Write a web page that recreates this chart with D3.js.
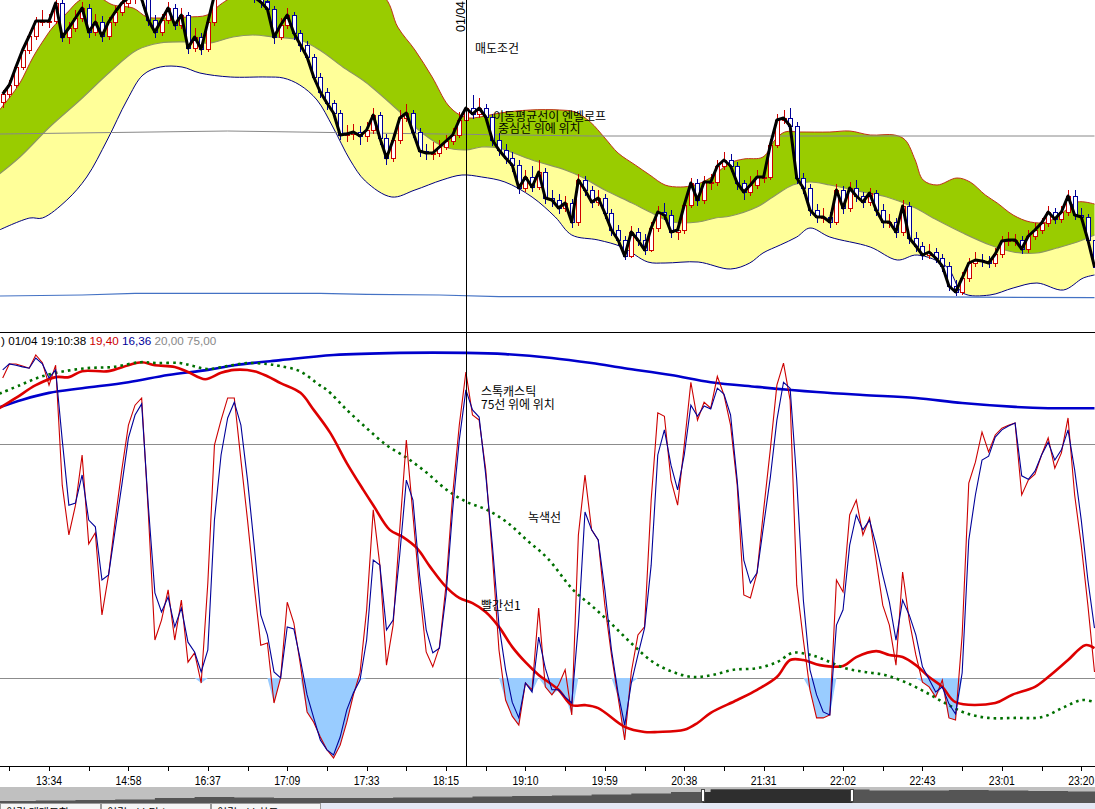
<!DOCTYPE html>
<html>
<head>
<meta charset="utf-8">
<script src="https://cdn.jsdelivr.net/npm/d3@7"></script>
<style>
html, body { margin: 0; padding: 0; background: #fff; overflow: hidden; }
svg { display: block; }
text { font-family: "Liberation Sans", Arial, sans-serif; }
.kr { font-family: "Noto Sans CJK KR", sans-serif; font-size: 12px; fill: #000; }
</style>
</head>
<body>
<div id="chart"></div>
<script>
const width = 1095;
const height = 809;

// ---- price candles (one per bar) ----
const opens = [2498,2506,2515,2533,2550,2564,2579,2578,2579,2597,
2563,2572,2582,2592,2568,2578,2564,2578,2588,2597,
2602,2603,2601,2580,2568,2580,2592,2575,2585,2552,
2563,2551,2578,2605,2615,2620,2620,2615,2610,2603,
2598,2591,2563,2575,2585,2567,2555,2543,2523,2508,
2497,2487,2465,2466,2468,2464,2470,2485,2462,2442,
2460,2482,2487,2468,2449,2447,2447,2453,2459,2465,
2480,2492,2486,2492,2483,2460,2450,2442,2435,2412,
2423,2413,2428,2402,2400,2392,2397,2378,2420,2410,
2398,2402,2387,2370,2360,2344,2368,2360,2350,2372,
2388,2385,2368,2370,2395,2417,2400,2418,2418,2434,
2440,2434,2417,2408,2415,2423,2423,2455,2480,2482,
2474,2422,2412,2390,2383,2383,2378,2410,2392,2412,
2404,2398,2407,2390,2378,2378,2368,2394,2362,2354,
2345,2348,2342,2334,2314,2308,2322,2337,2340,2339,
2337,2346,2359,2360,2360,2351,2364,2370,2377,2388,
2381,2388,2404,2385,2383,2360];
const highs = [2510,2520,2537,2555,2568,2583,2590,2586,2603,2600,
2578,2590,2598,2596,2586,2584,2583,2594,2604,2608,
2610,2609,2604,2585,2586,2598,2596,2592,2588,2572,
2567,2584,2612,2622,2628,2627,2625,2620,2614,2608,
2604,2594,2582,2592,2588,2570,2559,2546,2527,2512,
2500,2490,2475,2476,2474,2478,2492,2488,2466,2466,
2490,2496,2490,2472,2456,2458,2460,2465,2472,2488,
2500,2505,2502,2496,2486,2467,2456,2448,2440,2430,
2434,2440,2432,2410,2406,2404,2401,2426,2424,2414,
2410,2406,2391,2375,2364,2374,2372,2366,2378,2394,
2397,2390,2376,2400,2422,2421,2424,2426,2440,2448,
2446,2438,2420,2424,2430,2432,2461,2486,2490,2492,
2478,2427,2416,2396,2392,2388,2416,2414,2418,2420,
2408,2412,2410,2396,2386,2382,2400,2398,2368,2358,
2356,2352,2346,2338,2320,2328,2342,2348,2346,2344,
2352,2364,2368,2366,2364,2370,2377,2382,2394,2392,
2394,2410,2410,2392,2386,2364];
const lows = [2492,2502,2512,2530,2546,2560,2574,2572,2576,2558,
2556,2568,2578,2562,2564,2558,2560,2574,2584,2592,
2596,2594,2574,2562,2564,2576,2570,2571,2546,2548,
2545,2548,2574,2600,2610,2612,2610,2604,2597,2592,
2586,2556,2560,2571,2560,2548,2538,2518,2502,2490,
2480,2460,2458,2460,2455,2458,2466,2455,2435,2438,
2456,2478,2462,2443,2440,2440,2443,2450,2455,2462,
2477,2481,2482,2477,2454,2444,2436,2428,2406,2408,
2408,2410,2396,2393,2386,2388,2372,2374,2404,2392,
2394,2381,2364,2354,2340,2342,2354,2345,2348,2368,
2380,2362,2360,2366,2392,2394,2396,2410,2414,2430,
2428,2410,2400,2404,2411,2417,2420,2452,2476,2470,
2416,2406,2384,2377,2377,2372,2375,2386,2388,2398,
2392,2394,2384,2372,2372,2362,2364,2356,2348,2340,
2341,2337,2328,2309,2304,2305,2318,2333,2333,2332,
2333,2342,2354,2354,2346,2347,2360,2366,2373,2376,
2377,2384,2380,2378,2354,2328];
const closes = [2506,2515,2533,2550,2564,2579,2579,2579,2597,2563,
2572,2582,2592,2568,2578,2564,2578,2588,2597,2602,
2603,2601,2580,2568,2580,2592,2575,2585,2552,2563,
2551,2578,2605,2615,2620,2620,2615,2610,2603,2598,
2591,2563,2575,2585,2567,2555,2543,2523,2508,2497,
2487,2465,2466,2468,2464,2470,2485,2462,2442,2460,
2482,2487,2468,2449,2447,2447,2453,2459,2465,2480,
2492,2486,2492,2483,2460,2450,2442,2435,2412,2423,
2413,2428,2402,2400,2392,2397,2378,2420,2410,2398,
2402,2387,2370,2360,2344,2368,2360,2350,2372,2388,
2385,2368,2370,2395,2417,2400,2418,2418,2434,2440,
2434,2417,2408,2415,2423,2423,2455,2480,2482,2474,
2422,2412,2390,2383,2383,2378,2410,2392,2412,2404,
2398,2407,2390,2378,2378,2368,2394,2362,2354,2345,
2348,2342,2334,2314,2308,2322,2337,2340,2339,2337,
2346,2359,2360,2360,2351,2364,2370,2377,2388,2381,
2388,2404,2385,2383,2360,2333];

// ---- envelope and long averages, [bar, price] ----
const upperEnv = [[-0.5,2490],[1.1,2503],[2.6,2517],[4.6,2543],[6.4,2562],[7.6,2573],[9.7,2587],[11.7,2600],[14,2604],[16.7,2595],[19.7,2592],[21.8,2583],[23.8,2582],[27.9,2583],[30.9,2585],[32.8,2595],[34.4,2602],[40,2622],[45,2630],[52,2622],[57.8,2602],[59.7,2573],[62.3,2550],[64.9,2523],[67.3,2495],[69.1,2485],[70.6,2482],[72.1,2483],[75.2,2487],[79.7,2490],[84.2,2490],[86.5,2488],[88.8,2478],[91,2462],[93,2447],[95.6,2435],[97.8,2425],[100.1,2415],[102.4,2413],[104.6,2415],[106.9,2422],[109.9,2437],[112,2441],[114.9,2443],[116.7,2460],[118.2,2468],[120.5,2468],[125,2468],[128,2469],[131.1,2465],[134.8,2465],[136.4,2460],[137.9,2440],[139.1,2420],[141.2,2415],[144.2,2422],[146.2,2418],[148.5,2405],[150.3,2397],[152.7,2385],[155.3,2378],[157.8,2378],[160.3,2388],[162.4,2398],[165,2396]];
const middleEnv = [[-0.5,2426],[2.6,2443],[7.1,2473],[11.7,2500],[16.2,2528],[20.3,2550],[23.8,2557],[27.9,2558],[31.3,2557],[34.8,2563],[37.8,2565],[40.9,2563],[44.9,2560],[47.9,2550],[51.4,2533],[54.8,2518],[59.7,2490],[63.4,2467],[66.8,2453],[69.9,2450],[72.4,2453],[74.9,2452],[80,2440],[85,2430],[87.5,2423],[91,2410],[95.1,2397],[98.1,2387],[101.2,2378],[105.1,2378],[107.7,2382],[110,2384],[114,2393],[116.4,2403],[119.4,2415],[122,2418],[125,2415],[130,2408],[133.6,2403],[137.6,2393],[141.2,2380],[145.1,2367],[149.2,2355],[152.7,2348],[156.3,2347],[159.3,2352],[162.4,2358],[165,2365]];
const lowerEnv = [[-0.5,2370],[4.1,2382],[6,2382],[9.7,2400],[12.7,2423],[15.8,2460],[18.8,2500],[21.2,2525],[23.8,2533],[27.1,2533],[29.8,2527],[34.4,2523],[39.9,2523],[42.4,2522],[44.9,2515],[47.5,2500],[49.9,2473],[52.5,2440],[54.8,2419],[58.8,2403],[62.3,2410],[66.4,2420],[69.4,2425],[72.4,2423],[75.9,2418],[80,2403],[83.5,2383],[86,2365],[90,2360],[93.6,2353],[97.5,2338],[100.1,2337],[105.1,2338],[110,2331],[112.9,2337],[114.9,2347],[117.5,2355],[120,2363],[122,2372],[125,2363],[131.1,2353],[135.2,2340],[138.2,2345],[142.7,2333],[145.1,2307],[149.2,2305],[152.7,2312],[156.3,2317],[160.3,2310],[163.3,2322],[165,2325]];
const grayLongMA = [[-0.5,2466],[34,2469],[55,2467],[89,2464],[165,2464]];
const blueLongMA = [[-0.5,2304],[12,2305],[20,2306.7],[48,2306.7],[55,2305.7],[66,2305],[75,2303.3],[134,2303.3],[165,2302.3]];

// ---- stochastic (one per bar) ----
const stochK = [90.5,93.8,93.8,93.3,92.8,95.9,94.1,88.8,93.5,65.3,
53.6,60.6,72.4,51.5,54.1,34.8,44.2,57.1,68.9,79.4,
84.1,85.8,59.0,28.9,33.6,40.7,28.9,38.3,23.7,25.9,
18.8,42.3,74.7,80.6,85.8,85.8,71.2,57.1,41.8,27.7,
28.2,14.1,20.0,37.8,32.9,23.0,12.0,9.6,6.1,3.1,
1.2,4.2,9.6,16.0,21.2,36.0,59.5,46.5,23.0,32.4,
54.8,75.9,58.3,40.7,26.1,22.6,27.3,41.8,63.0,79.4,
91.9,81.8,80.6,68.9,48.9,26.6,14.8,11.0,8.9,18.8,
17.2,36.4,17.9,16.0,18.3,21.9,11.3,53.6,67.7,54.8,
52.4,37.1,25.4,15.5,5.4,21.4,30.1,32.0,61.8,82.3,
81.5,66.5,60.6,74.7,89.5,80.6,84.8,83.4,90.9,86.5,
79.4,65.3,39.5,38.8,44.7,59.5,73.6,88.8,94.0,85.3,
41.8,28.9,17.2,10.6,10.6,11.3,43.0,40.2,58.3,61.8,
53.6,57.6,47.7,37.1,32.4,23.0,44.9,33.6,25.4,19.0,
17.9,15.5,19.5,10.6,10.1,30.1,65.8,70.7,77.8,73.1,
77.1,78.7,79.4,79.9,63.0,66.5,67.9,72.4,76.4,69.3,
72.9,81.1,63.0,51.2,37.1,21.4];
const stochD = [92.4,93.8,93.5,93.1,92.8,95.2,93.8,90.5,92.4,75.9,
60.6,61.1,67.7,57.1,55.5,43.0,44.2,54.8,65.3,76.4,
81.8,84.4,60.6,40.0,35.5,39.0,32.0,36.4,28.4,26.1,
21.4,26.6,57.1,72.4,81.1,84.8,79.4,66.5,51.2,34.8,
30.1,21.4,20.0,32.0,31.5,24.2,16.0,10.6,5.4,3.1,
1.9,6.1,12.5,16.5,19.5,28.9,47.7,46.5,31.3,33.6,
48.9,66.5,61.8,44.2,31.3,25.9,27.0,39.5,59.5,75.9,
87.7,83.0,81.3,67.7,51.2,32.4,21.9,14.3,10.6,18.8,
16.7,29.6,22.3,17.2,17.2,15.5,14.1,32.4,59.0,54.8,
52.4,40.7,26.6,16.5,8.9,18.8,25.4,31.7,46.5,72.4,
78.3,70.0,64.2,72.4,84.1,81.5,83.9,83.2,88.1,86.7,
81.8,66.5,47.7,42.3,44.7,55.9,67.0,80.6,89.5,88.1,
66.5,38.3,21.9,16.0,12.0,11.3,32.4,36.0,51.2,58.3,
54.8,57.1,51.2,44.2,37.8,28.9,38.3,34.8,30.1,22.6,
19.7,16.7,17.9,13.9,11.5,21.2,52.4,63.0,71.2,72.1,
76.6,78.3,79.2,79.9,67.5,66.7,68.6,72.4,75.4,71.2,
73.6,78.3,68.9,57.1,43.0,31.7];
const stochLevels = [75, 20];

// ---- averages drawn in the lower panel, [bar, value] ----
const blueMA = [[-0.5,83.6],[3,85.4],[7,87.0],[12,88.1],[19,89.5],[25,91.2],[31,92.4],[35,93.5],[42,94.7],[50,95.9],[60,96.4],[70,96.4],[76,96.1],[83,95.2],[89,94.0],[94,92.8],[101,91.2],[107,89.5],[114,88.4],[123,87.2],[130,86.5],[138,85.8],[145,84.6],[153,83.7],[158,83.4],[165,83.4]];
const redMA = [[-0.5,83.4],[2,85.8],[5,88.8],[8,90.7],[10,90.7],[12,92.1],[16,92.1],[19,93.5],[21,94.2],[23,93.5],[26,93.1],[28,91.9],[30.6,90.2],[33,91.7],[35,92.4],[38,92.1],[40,90.9],[42,89.3],[45,87.0],[47,83.0],[49.5,77.6],[52,70.5],[54.5,64.2],[56,60.6],[58.5,54.8],[60.5,53.1],[62.6,50.5],[64.6,46.1],[67,41.4],[69,38.8],[71,37.6],[73,35.5],[75,32.0],[77,27.3],[79,23.7],[81,20.7],[84,17.2],[86,13.6],[88,13.6],[90,12.9],[94,8.5],[97,7.3],[99,7.3],[103,7.8],[105,9.4],[107,11.8],[111,14.8],[114,17.2],[117,20.2],[119,24.2],[121,24.2],[123.5,23.0],[127,22.8],[129,24.9],[132,26.3],[134,25.4],[136,24.9],[138,23.0],[140,20.2],[142,17.9],[144,14.3],[150,14.1],[152.5,16.0],[156,17.9],[158,20.2],[161,24.2],[163.6,27.7],[165,27.0]];
const greenMA = [[-0.5,86.8],[2.6,88.8],[5.6,90.7],[8.7,91.9],[12.7,92.8],[16.7,93.1],[20.8,94.2],[23.3,94.0],[26.8,94.0],[28.8,93.3],[30.9,92.6],[33.9,93.3],[36.9,94.0],[39.9,93.8],[41.9,93.3],[44.9,92.1],[47.9,88.8],[49,87.7],[52,83.0],[55,78.7],[58,74.7],[61.1,71.7],[64.1,68.2],[67.1,64.2],[70.2,61.3],[73.2,59.5],[76.2,56.6],[79.2,52.4],[82.3,48.2],[86.2,40.7],[89.2,36.7],[92.2,32.4],[95.3,27.7],[98.3,23.7],[101.3,21.4],[104.3,20.2],[107.3,20.7],[110.4,21.9],[114,22.3],[117,23.7],[119.4,25.9],[121.5,25.6],[123.5,24.7],[127.3,22.3],[130.3,21.4],[133.3,20.7],[136.4,19.0],[139.4,16.7],[142.4,14.1],[145.4,11.8],[148.9,10.6],[153,10.6],[157.1,10.8],[160.1,12.9],[163.1,14.8],[165,14.3]];

// ---- time axis ----
const tickBars = d3.range(1, 166, 6);
const labelBars = [7,19,31,43,55,67,79,91,103,115,127,139,151,163];
const timeLabels = ["13:34","14:58","16:37","17:09","17:33","18:15","19:10","19:59","20:38","21:31","22:02","22:43","23:01","23:20"];
const cursorBar = 70;

// ---- overview strip at the bottom, [bar, height] ----
const overview = [[-1,2],[5,2.5],[11,3],[17,3.5],[23,5],[29,6],[35,5.5],[41,5],[47,5],[53,5],[59,5.5],[65,5.5],[71,6.5],[77,7],[83,7.5],[89,8.5],[95,9.5],[101,11],[107,13.5],[113,14],[119,14],[125,13.5],[131,12.5],[137,12.5],[143,13],[149,12.5],[155,12],[161,11.5],[166,11.5]];
const viewWindow = [105.8, 128.4];

// ---- scales ----
const x = d3.scaleLinear().domain([0, 165]).range([2.7, 1094.5]);
const yP = d3.scaleLinear().domain([2268, 2600]).range([332, 0]);
const yS = d3.scaleLinear().domain([0, 100]).range([763, 337.55]);
const yOv = d3.scaleLinear().domain([0, 15]).range([803, 788]);

const svg = d3.select("#chart").append("svg")
  .attr("width", width)
  .attr("height", height);

const defs = svg.append("defs");
defs.append("clipPath").attr("id", "clipTop")
  .append("rect").attr("x", 0).attr("y", 0).attr("width", width).attr("height", 332);
defs.append("clipPath").attr("id", "clipLow")
  .append("rect").attr("x", 0).attr("y", 333).attr("width", width).attr("height", 433);
defs.append("clipPath").attr("id", "clipView")
  .append("rect").attr("x", x(viewWindow[0])).attr("y", 786)
  .attr("width", x(viewWindow[1]) - x(viewWindow[0])).attr("height", 18);

const smooth = d3.curveCatmullRom.alpha(0.5);
const knotLine = (yScale) => d3.line().x(d => x(d[0])).y(d => yScale(d[1])).curve(smooth);

function band(topArr, botArr, yScale) {
  const l = knotLine(yScale);
  const a = l(topArr);
  const b = l(botArr.slice().reverse());
  return a + "L" + b.slice(1) + "Z";
}

// ---------------- price panel ----------------
const priceG = svg.append("g").attr("clip-path", "url(#clipTop)");

priceG.append("path").attr("d", band(middleEnv, lowerEnv, yP)).attr("fill", "#ffff99");
priceG.append("path").attr("d", band(upperEnv, middleEnv, yP)).attr("fill", "#99cc00");

priceG.append("path").datum(upperEnv).attr("d", knotLine(yP))
  .attr("fill", "none").attr("stroke", "#c0301a").attr("stroke-width", 1);
priceG.append("path").datum(middleEnv).attr("d", knotLine(yP))
  .attr("fill", "none").attr("stroke", "#8c9660").attr("stroke-width", 1.2);
priceG.append("path").datum(lowerEnv).attr("d", knotLine(yP))
  .attr("fill", "none").attr("stroke", "#000080").attr("stroke-width", 1);
priceG.append("path").datum(grayLongMA).attr("d", d3.line().x(d => x(d[0])).y(d => yP(d[1])))
  .attr("fill", "none").attr("stroke", "#888").attr("stroke-width", 1);
priceG.append("path").datum(blueLongMA).attr("d", d3.line().x(d => x(d[0])).y(d => yP(d[1])))
  .attr("fill", "none").attr("stroke", "#4472c4").attr("stroke-width", 1.2);

const bars = d3.range(closes.length);
const candleG = priceG.append("g").attr("shape-rendering", "crispEdges");
bars.forEach(i => {
  const up = closes[i] >= opens[i];
  const col = up ? "#cc0000" : "#000099";
  const cx = Math.round(x(i)) + 0.5;
  candleG.append("line")
    .attr("x1", cx).attr("x2", cx)
    .attr("y1", yP(highs[i])).attr("y2", yP(lows[i]))
    .attr("stroke", col).attr("stroke-width", 1);
  const y1 = yP(Math.max(opens[i], closes[i]));
  const y2 = yP(Math.min(opens[i], closes[i]));
  candleG.append("rect")
    .attr("x", cx - 2).attr("y", y1)
    .attr("width", 4).attr("height", Math.max(1, y2 - y1))
    .attr("fill", "#fff").attr("stroke", col).attr("stroke-width", 1);
});

priceG.append("path").datum(closes)
  .attr("d", d3.line().x((d, i) => x(i)).y(d => yP(d)))
  .attr("fill", "none").attr("stroke", "#000").attr("stroke-width", 3)
  .attr("stroke-linejoin", "round");

svg.append("line").attr("x1", 0).attr("x2", width).attr("y1", 332.5).attr("y2", 332.5)
  .attr("stroke", "#000").attr("stroke-width", 1);

// ---------------- stochastic panel ----------------
const stochG = svg.append("g").attr("clip-path", "url(#clipLow)");

stochLevels.forEach(v => {
  stochG.append("line").attr("x1", 0).attr("x2", width)
    .attr("y1", Math.round(yS(v)) + 0.5).attr("y2", Math.round(yS(v)) + 0.5)
    .attr("stroke", "#8c8c8c").attr("stroke-width", 1);
});

stochG.append("path").datum(bars)
  .attr("d", d3.area()
    .x(i => x(i))
    .y0(yS(20))
    .y1(i => yS(Math.min(20, stochK[i], stochD[i]))))
  .attr("fill", "#99ccff");

stochG.append("path").datum(blueMA).attr("d", knotLine(yS))
  .attr("fill", "none").attr("stroke", "#0000cc").attr("stroke-width", 2.6);
stochG.append("path").datum(redMA).attr("d", knotLine(yS))
  .attr("fill", "none").attr("stroke", "#dd0000").attr("stroke-width", 2.6);
stochG.append("path").datum(greenMA).attr("d", knotLine(yS))
  .attr("fill", "none").attr("stroke", "#007000").attr("stroke-width", 2.6)
  .attr("stroke-dasharray", "2.6 4");

stochG.append("path").datum(stochK)
  .attr("d", d3.line().x((d, i) => x(i)).y(d => yS(d)))
  .attr("fill", "none").attr("stroke", "#cc0000").attr("stroke-width", 1.1);
stochG.append("path").datum(stochD)
  .attr("d", d3.line().x((d, i) => x(i)).y(d => yS(d)))
  .attr("fill", "none").attr("stroke", "#000099").attr("stroke-width", 1.1);

const head = svg.append("text").attr("x", 1).attr("y", 345)
  .style("font-size", "11.7px");
head.append("tspan").attr("fill", "#000").text(") 01/04 19:10:38 ");
head.append("tspan").attr("fill", "#cc0000").text("19,40 ");
head.append("tspan").attr("fill", "#000099").text("16,36 ");
head.append("tspan").attr("fill", "#888").text("20,00 75,00");

// ---------------- cursor ----------------
const cx0 = Math.round(x(cursorBar)) + 0.5;
svg.append("line").attr("x1", cx0).attr("x2", cx0).attr("y1", 0).attr("y2", 766)
  .attr("stroke", "#000").attr("stroke-width", 1);
svg.append("text")
  .attr("transform", `translate(${cx0 - 2},32) rotate(-90)`)
  .style("font-size", "13px").attr("fill", "#000")
  .attr("textLength", 31).attr("lengthAdjust", "spacingAndGlyphs")
  .text("01/04");

// ---------------- notes ----------------
const notes = [
  {t: "매도조건", x: 475, y: 53},
  {t: "이동평균선이 엔벨로프", x: 493, y: 121},
  {t: "중심선 위에 위치", x: 498, y: 133},
  {t: "스톡캐스틱", x: 481, y: 396},
  {t: "75선 위에 위치", x: 481, y: 409},
  {t: "녹색선", x: 528, y: 522},
  {t: "빨간선1", x: 481, y: 610}
];
notes.forEach(n => {
  svg.append("text").attr("class", "kr").attr("x", n.x).attr("y", n.y).text(n.t);
});

// ---------------- time axis ----------------
svg.append("line").attr("x1", 0).attr("x2", width).attr("y1", 766.5).attr("y2", 766.5)
  .attr("stroke", "#000").attr("stroke-width", 1);
tickBars.forEach(b => {
  const tx = Math.round(x(b)) + 0.5;
  svg.append("line").attr("x1", tx).attr("x2", tx).attr("y1", 767).attr("y2", 771)
    .attr("stroke", "#000").attr("stroke-width", 1);
});
labelBars.forEach((b, i) => {
  svg.append("text").attr("x", x(b)).attr("y", 785)
    .attr("text-anchor", "middle").style("font-size", "13px").attr("fill", "#000")
    .attr("textLength", 26).attr("lengthAdjust", "spacingAndGlyphs")
    .text(timeLabels[i]);
});

// ---------------- overview strip ----------------
svg.append("rect").attr("x", 0).attr("y", 787).attr("width", width).attr("height", 16)
  .attr("fill", "#c0c0c0");
const ovArea = d3.area().x(d => x(d[0])).y0(803).y1(d => yOv(d[1])).curve(d3.curveStepAfter);
svg.append("path").datum(overview).attr("d", ovArea).attr("fill", "#555");
svg.append("g").attr("clip-path", "url(#clipView)")
  .append("path").datum(overview).attr("d", ovArea).attr("fill", "#2e2e2e");
viewWindow.forEach(v => {
  svg.append("rect").attr("x", Math.round(x(v)) - 1.5).attr("y", 789.5)
    .attr("width", 3).attr("height", 12)
    .attr("fill", "#fff").attr("stroke", "#444").attr("stroke-width", 1);
});

// ---------------- bottom tabs ----------------
svg.append("rect").attr("x", 0).attr("y", 803).attr("width", width).attr("height", 6)
  .attr("fill", "#e4e8f4");
const tabs = [
  {x0: 0, x1: 101, t: "연결 매매동향 0.t"},
  {x0: 101, x1: 211, t: "연결 5분 틱 ("},
  {x0: 211, x1: 321, t: "연결 5분 차트 0"}
];
tabs.forEach(tb => {
  svg.append("rect").attr("x", tb.x0 + 0.5).attr("y", 803.5)
    .attr("width", tb.x1 - tb.x0 - 1).attr("height", 8)
    .attr("fill", "#f6f6f6").attr("stroke", "#9a9a9a").attr("stroke-width", 1);
  svg.append("text").attr("class", "kr").attr("x", tb.x0 + 6).attr("y", 817)
    .style("font-size", "11px").text(tb.t);
});
</script>
</body>
</html>
